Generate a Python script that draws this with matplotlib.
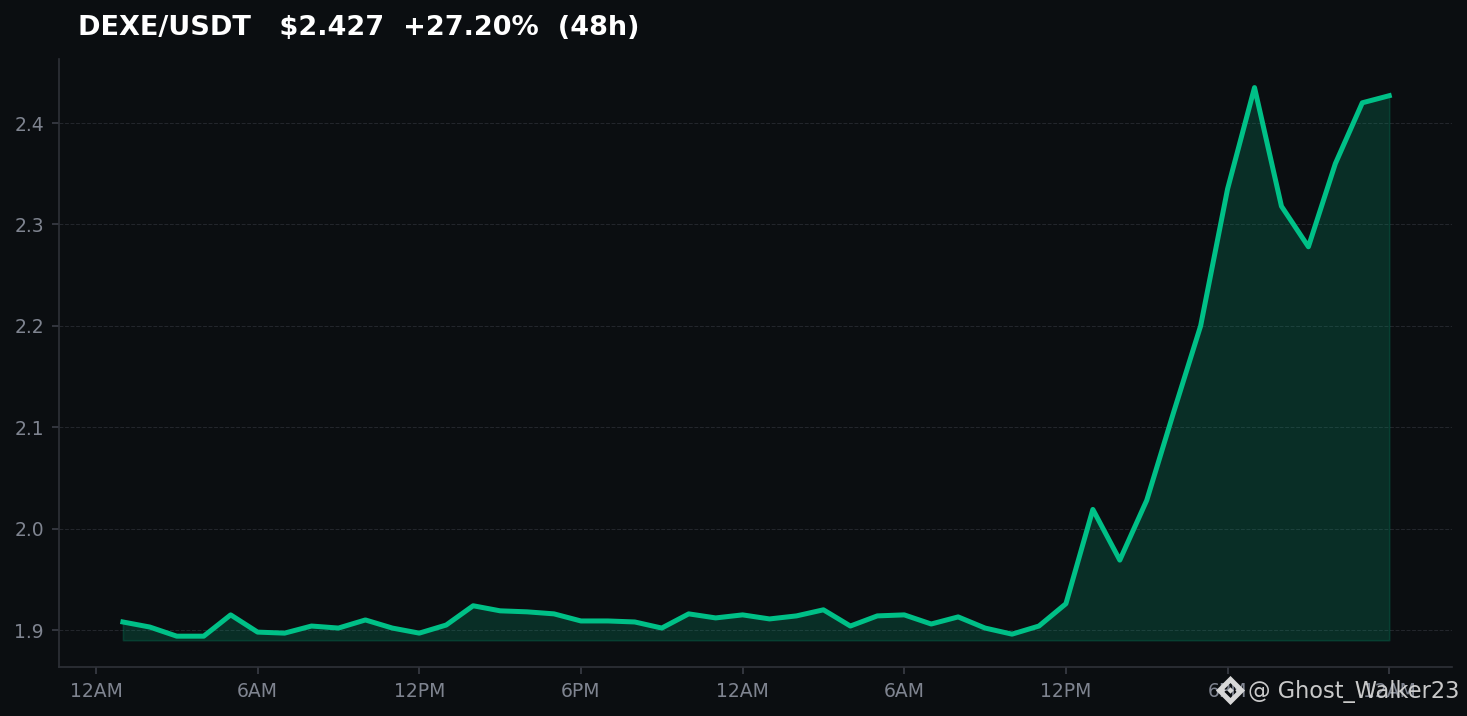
import matplotlib
matplotlib.use("Agg")
import matplotlib.pyplot as plt
from matplotlib.lines import Line2D

W, H, DPI = 1467, 716, 150
BG = "#0b0e11"
GREEN = "#00c087"

hours = list(range(1, 49))
prices = [1.908, 1.903, 1.894, 1.894, 1.915, 1.898, 1.897, 1.904, 1.902, 1.910,
          1.902, 1.897, 1.905, 1.924, 1.919, 1.918, 1.916, 1.909, 1.909, 1.908,
          1.902, 1.916, 1.912, 1.915, 1.911, 1.914, 1.920, 1.904, 1.914, 1.915,
          1.906, 1.913, 1.902, 1.896, 1.904, 1.926, 2.019, 1.969, 2.028, 2.115,
          2.200, 2.335, 2.435, 2.318, 2.278, 2.360, 2.420, 2.427]
fill_base = 1.89
x_ticks = [0, 6, 12, 18, 24, 30, 36, 42, 48]
x_labels = ["12AM", "6AM", "12PM", "6PM", "12AM", "6AM", "12PM", "6PM", "12AM"]
y_ticks = [1.9, 2.0, 2.1, 2.2, 2.3, 2.4]
title = "DEXE/USDT   $2.427  +27.20%  (48h)"
watermark = "@ Ghost_Walker23"

fig = plt.figure(figsize=((W + 0.01) / DPI, (H + 0.01) / DPI), dpi=DPI, facecolor=BG)
ax = fig.add_axes([58.5 / W, 1 - 667 / H, (1452 - 58.5) / W, (667 - 59) / H], facecolor=BG)

ax.fill_between(hours, prices, fill_base, color=GREEN, alpha=0.18, linewidth=0.8, zorder=2)
ax.plot(hours, prices, color=GREEN, linewidth=2.4, zorder=3, solid_joinstyle="round")

ax.set_xlim(-1.39, 50.33)
ax.set_ylim(1.8636, 2.4632)
ax.set_xticks(x_ticks, x_labels)
ax.set_yticks(y_ticks, [f"{v:.1f}" for v in y_ticks])
ax.tick_params(colors="#3a3d46", labelcolor="#7f8490", labelsize=9, width=0.8, length=3.5, pad=3.5)
ax.grid(axis="y", color="#23262c", linestyle="--", linewidth=0.5, zorder=1)
ax.set_axisbelow(True)
for side in ("top", "right"):
    ax.spines[side].set_visible(False)
for side in ("left", "bottom"):
    ax.spines[side].set_color("#2e3138")
    ax.spines[side].set_linewidth(0.8)

fig.text(78 / W, 1 - 27.5 / H, title, color="white", fontsize=13, fontweight="bold", ha="left", va="center")

# Watermark: diamond logo followed by the handle
logo_x, logo_y = 1230 / W, 1 - 690 / H
mark = "#d8d8d8"
fig.add_artist(Line2D([logo_x], [logo_y], marker="D", markersize=7.6, markerfacecolor="none",
                      markeredgecolor=mark, markeredgewidth=2.4, transform=fig.transFigure))
for dx in (-8, 0, 8):
    fig.add_artist(Line2D([logo_x + dx / W], [logo_y], marker="D", markersize=2.2, color=mark,
                          markeredgewidth=0, transform=fig.transFigure))
fig.text(1248 / W, 1 - 691.5 / H, watermark, color="#d4d4d4", fontsize=10.8, ha="left", va="center", alpha=0.95)

fig.savefig("out.png", dpi=DPI, facecolor=BG)
